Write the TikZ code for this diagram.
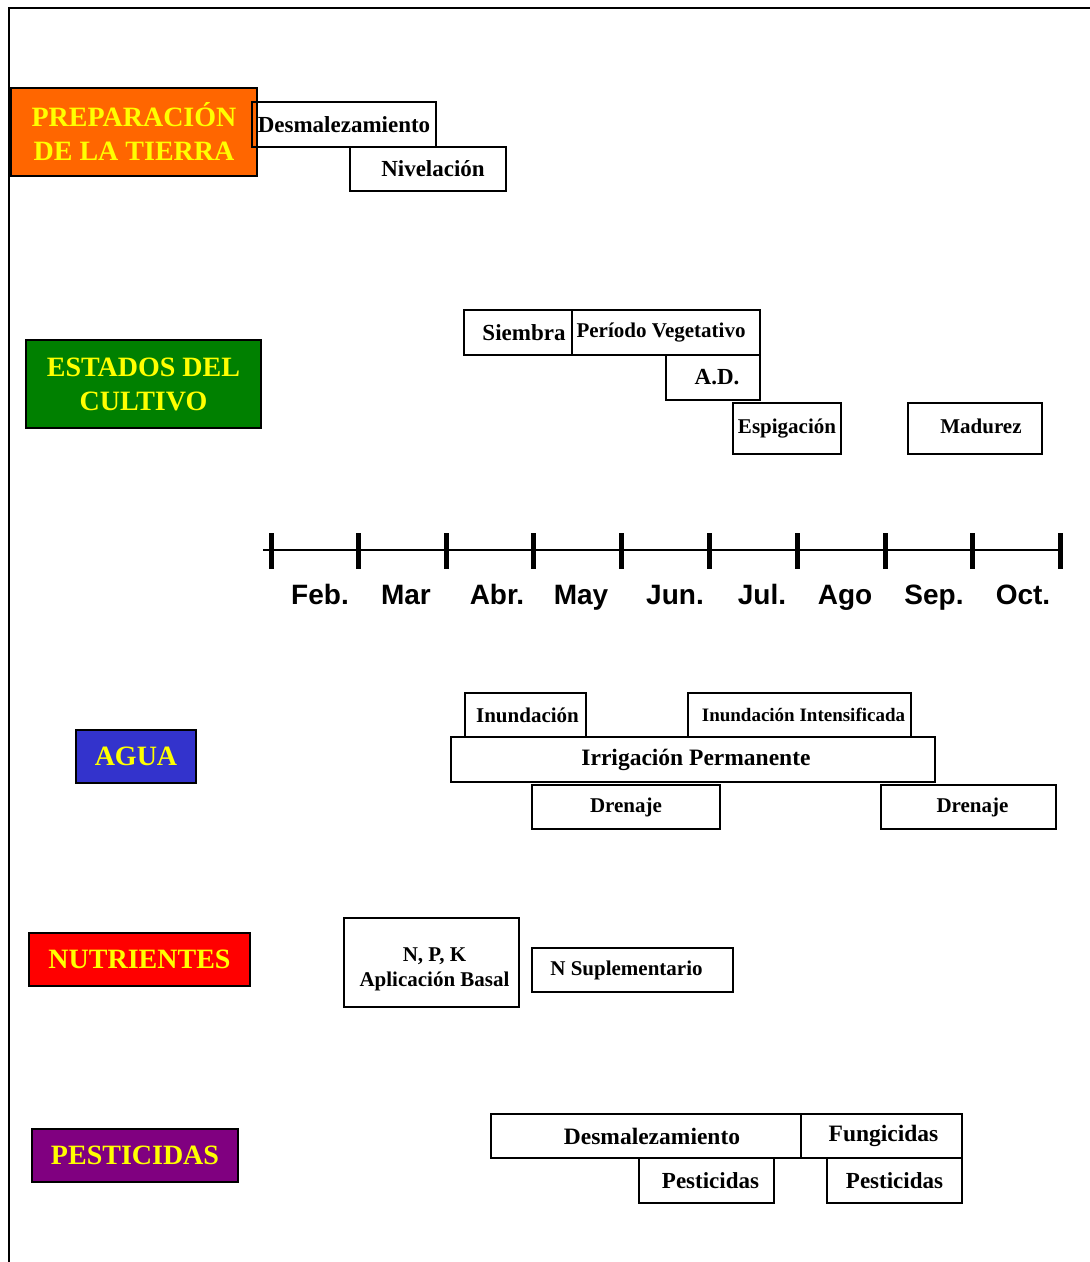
\documentclass[tikz,border=0pt]{standalone}
\usepackage{fontspec}
\setmainfont{Liberation Serif}
\newfontfamily\monthfont{Liberation Sans}
\newcommand\fsz[1]{\fontsize{#1}{#1}\selectfont}
\definecolor{catyellow}{RGB}{255,255,0}
\definecolor{prepor}{RGB}{255,102,0}
\definecolor{estgreen}{RGB}{0,128,0}
\definecolor{aguablue}{RGB}{51,51,204}
\definecolor{nutred}{RGB}{255,0,0}
\definecolor{pestpurple}{RGB}{128,0,128}
\tikzset{
  cat/.style={draw=black, line width=1.6pt, text=catyellow, align=center, inner sep=0pt,
    font=\fsz{28}\bfseries},
  box/.style={draw=black, line width=2pt, inner sep=0pt, align=center, text=black},
  tick/.style={line width=5pt},
  month/.style={font=\monthfont\bfseries\fsz{28}, inner sep=0pt, anchor=base}
}
\begin{document}
\begin{tikzpicture}[x=1pt,y=-1pt]
\useasboundingbox (0,0) rectangle (1090,1262);
% frame
\coordinate (ftr) at (1090,8);
\coordinate (ftl) at (9,8);
\coordinate (fbl) at (9,1262);
\draw[line width=1.6pt] (ftr) -- (ftl) -- (fbl);

% PREPARACION
\node[cat, fill=prepor, minimum width=246, minimum height=88, font=\fontsize{28}{34}\selectfont\bfseries] (prep) at (134,132) {PREPARACIÓN\\DE LA TIERRA};
\node[box, minimum width=184, minimum height=45, font=\fsz{23}\bfseries] (desm1) at (344,124.5) {Desmalezamiento};
\node[box, minimum width=156, minimum height=44, font=\fsz{23}\bfseries] (nivel) at (428,169) {\hspace*{10pt}Nivelación};

% ESTADOS
\node[cat, fill=estgreen, minimum width=235, minimum height=88, font=\fontsize{28}{34}\selectfont\bfseries] (est) at (143.5,384) {ESTADOS DEL\\CULTIVO};
\node[box, minimum width=108, minimum height=45, font=\fsz{23}\bfseries] (siem) at (518,332.5) {\hspace*{12pt}Siembra};
\node[box, minimum width=188, minimum height=45, font=\fsz{21}\bfseries] (peri) at (666,332.5) {Período Vegetativo\hspace*{10pt}};
\node[box, minimum width=94, minimum height=45, font=\fsz{23}\bfseries] (ad) at (713,377.5) {\hspace*{8pt}A.D.};
\node[box, minimum width=108, minimum height=51, font=\fsz{21}\bfseries] (espi) at (787,428.5) {Espigación};
\node[box, minimum width=134, minimum height=51, font=\fsz{21}\bfseries] (madu) at (975,428.5) {\raisebox{4pt}{\hspace*{12pt}Madurez}};

% timeline
\coordinate (tl0) at (263,550);
\coordinate (tl1) at (1062,550);
\draw[line width=1.4pt] (tl0) -- (tl1);
\foreach \x/\n in {271/t1,358/t2,446/t3,533/t4,621/t5,709/t6,797/t7,885/t8,972/t9,1060/t10}{
  \coordinate (\n a) at (\x,533);
  \coordinate (\n b) at (\x,569);
  \draw[tick] (\n a) -- (\n b);
}
\node[month] (mfeb) at (320,604) {Feb.};
\node[month] (mmar) at (406,604) {Mar};
\node[month] (mabr) at (497,604) {Abr.};
\node[month] (mmay) at (581,604) {May};
\node[month] (mjun) at (675,604) {Jun.};
\node[month] (mjul) at (762,604) {Jul.};
\node[month] (mago) at (845,604) {Ago};
\node[month] (msep) at (934,604) {Sep.};
\node[month] (moct) at (1023,604) {Oct.};

% AGUA
\node[cat, fill=aguablue, minimum width=120, minimum height=53] (agua) at (136,756.5) {AGUA};
\node[box, minimum width=121, minimum height=44, font=\fsz{21}\bfseries] (inun) at (525.5,715) {\hspace*{4pt}Inundación};
\node[box, minimum width=223, minimum height=44, font=\fsz{19}\bfseries] (inint) at (799.5,715) {\hspace*{8pt}Inundación Intensificada};
\node[box, minimum width=484, minimum height=45, font=\fsz{23.5}\bfseries] (irri) at (693,759.5) {\hspace*{6pt}Irrigación Permanente};
\node[box, minimum width=188, minimum height=44, font=\fsz{21}\bfseries] (dren1) at (626,807) {Drenaje};
\node[box, minimum width=175, minimum height=44, font=\fsz{21}\bfseries] (dren2) at (968.5,807) {\hspace*{8pt}Drenaje};

% NUTRIENTES
\node[cat, fill=nutred, minimum width=221, minimum height=53] (nutr) at (139.5,959.5) {NUTRIENTES};
\node[box, minimum width=175, minimum height=89] (npk) at (431.5,962.5) {};
\node[inner sep=0pt, align=center, font=\fontsize{21}{25}\selectfont\bfseries] (npktxt) at ([xshift=3pt,yshift=-7pt]npk.center) {N, P, K\\Aplicación Basal};
\node[box, minimum width=201, minimum height=44, font=\fsz{21}\bfseries] (nsup) at (632.5,970) {N Suplementario\hspace*{12pt}};

% PESTICIDAS
\node[cat, fill=pestpurple, minimum width=206, minimum height=53] (pest) at (135,1155.5) {PESTICIDAS};
\node[box, minimum width=310, minimum height=44, font=\fsz{23.5}\bfseries] (desm2) at (646,1136) {\hspace*{12pt}Desmalezamiento};
\node[box, minimum width=161, minimum height=44, font=\fsz{23.5}\bfseries] (fung) at (881.5,1136) {\hspace*{4pt}Fungicidas};
\node[box, minimum width=135, minimum height=45, font=\fsz{23}\bfseries] (pest1) at (706.5,1180.5) {\hspace*{8pt}Pesticidas};
\node[box, minimum width=135, minimum height=45, font=\fsz{23}\bfseries] (pest2) at (894.5,1180.5) {Pesticidas};
\end{tikzpicture}
\end{document}
